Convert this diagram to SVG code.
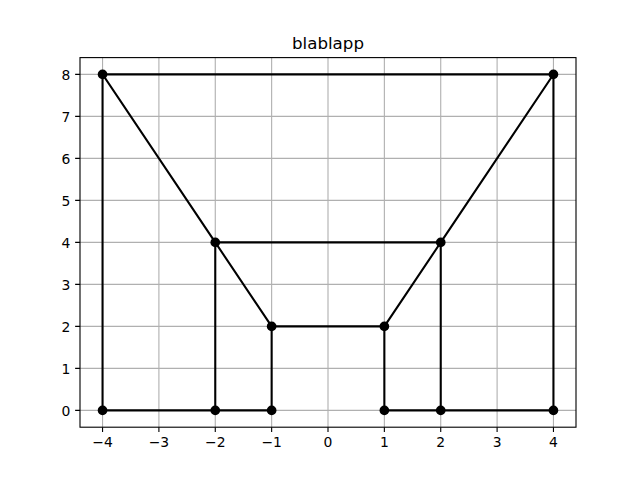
<svg xmlns="http://www.w3.org/2000/svg" width="640" height="480" viewBox="0 0 640 480">
<style>
.grid{stroke:#b0b0b0;stroke-width:1.11;fill:none}
.tick{stroke:#000;stroke-width:1.11}
.edge{stroke:#000;stroke-width:2.08;fill:none;stroke-linecap:square}
.node{fill:#000}
.lbl{font-family:"DejaVu Sans",sans-serif;font-size:13.9px;fill:#000}
.xl{text-anchor:middle}
.yl{text-anchor:end}
.title{font-family:"DejaVu Sans",sans-serif;font-size:16.67px;text-anchor:middle;fill:#000}
</style>
<rect width="640" height="480" fill="#fff"/>
<g id="grid">
<path class="grid" d="M102.55 57.6V427.2M158.9 57.6V427.2M215.27 57.6V427.2M271.64 57.6V427.2M328 57.6V427.2M384.36 57.6V427.2M440.73 57.6V427.2M497.1 57.6V427.2M553.45 57.6V427.2"/>
<path class="grid" d="M80 410.4H576M80 368.4H576M80 326.4H576M80 284.4H576M80 242.4H576M80 200.4H576M80 158.4H576M80 116.4H576M80 74.4H576"/>
</g>
<g id="connectors">
<path class="edge" d="M102.55 410.4V74.4H553.45V410.4"/>
<path class="edge" d="M102.55 74.4L215.27 242.4H440.73L553.45 74.4"/>
<path class="edge" d="M215.27 242.4L271.64 326.4H384.36L440.73 242.4"/>
<path class="edge" d="M215.27 242.4V410.4M271.64 326.4V410.4M384.36 326.4V410.4M440.73 242.4V410.4"/>
<path class="edge" d="M102.55 410.4H271.64M384.36 410.4H553.45"/>
</g>
<g id="n1"><circle class="node" cx="102.55" cy="410.4" r="4.85"/></g>
<g id="n2"><circle class="node" cx="102.55" cy="74.4" r="4.85"/></g>
<g id="n3"><circle class="node" cx="553.45" cy="74.4" r="4.85"/></g>
<g id="n4"><circle class="node" cx="553.45" cy="410.4" r="4.85"/></g>
<g id="n5"><circle class="node" cx="215.27" cy="242.4" r="4.85"/></g>
<g id="n6"><circle class="node" cx="440.73" cy="242.4" r="4.85"/></g>
<g id="n7"><circle class="node" cx="271.64" cy="326.4" r="4.85"/></g>
<g id="n8"><circle class="node" cx="384.36" cy="326.4" r="4.85"/></g>
<g id="n9"><circle class="node" cx="215.27" cy="410.4" r="4.85"/></g>
<g id="n10"><circle class="node" cx="271.64" cy="410.4" r="4.85"/></g>
<g id="n11"><circle class="node" cx="384.36" cy="410.4" r="4.85"/></g>
<g id="n12"><circle class="node" cx="440.73" cy="410.4" r="4.85"/></g>
<g id="axes">
<rect x="80" y="57.6" width="496" height="369.6" fill="none" stroke="#000" stroke-width="1.11"/>
<path class="tick" d="M102.55 427.2v4.86M158.9 427.2v4.86M215.27 427.2v4.86M271.64 427.2v4.86M328 427.2v4.86M384.36 427.2v4.86M440.73 427.2v4.86M497.1 427.2v4.86M553.45 427.2v4.86"/>
<path class="tick" d="M80 410.4h-4.86M80 368.4h-4.86M80 326.4h-4.86M80 284.4h-4.86M80 242.4h-4.86M80 200.4h-4.86M80 158.4h-4.86M80 116.4h-4.86M80 74.4h-4.86"/>
<g class="lbl xl">
<text x="102.55" y="447">−4</text>
<text x="158.9" y="447">−3</text>
<text x="215.27" y="447">−2</text>
<text x="271.64" y="447">−1</text>
<text x="328" y="447">0</text>
<text x="384.36" y="447">1</text>
<text x="440.73" y="447">2</text>
<text x="497.1" y="447">3</text>
<text x="553.45" y="447">4</text>
</g>
<g class="lbl yl">
<text x="70.3" y="415.7">0</text>
<text x="70.3" y="373.7">1</text>
<text x="70.3" y="331.7">2</text>
<text x="70.3" y="289.7">3</text>
<text x="70.3" y="247.7">4</text>
<text x="70.3" y="205.7">5</text>
<text x="70.3" y="163.7">6</text>
<text x="70.3" y="121.7">7</text>
<text x="70.3" y="79.7">8</text>
</g>
<text class="title" x="328" y="49.3">blablapp</text>
</g>
</svg>
